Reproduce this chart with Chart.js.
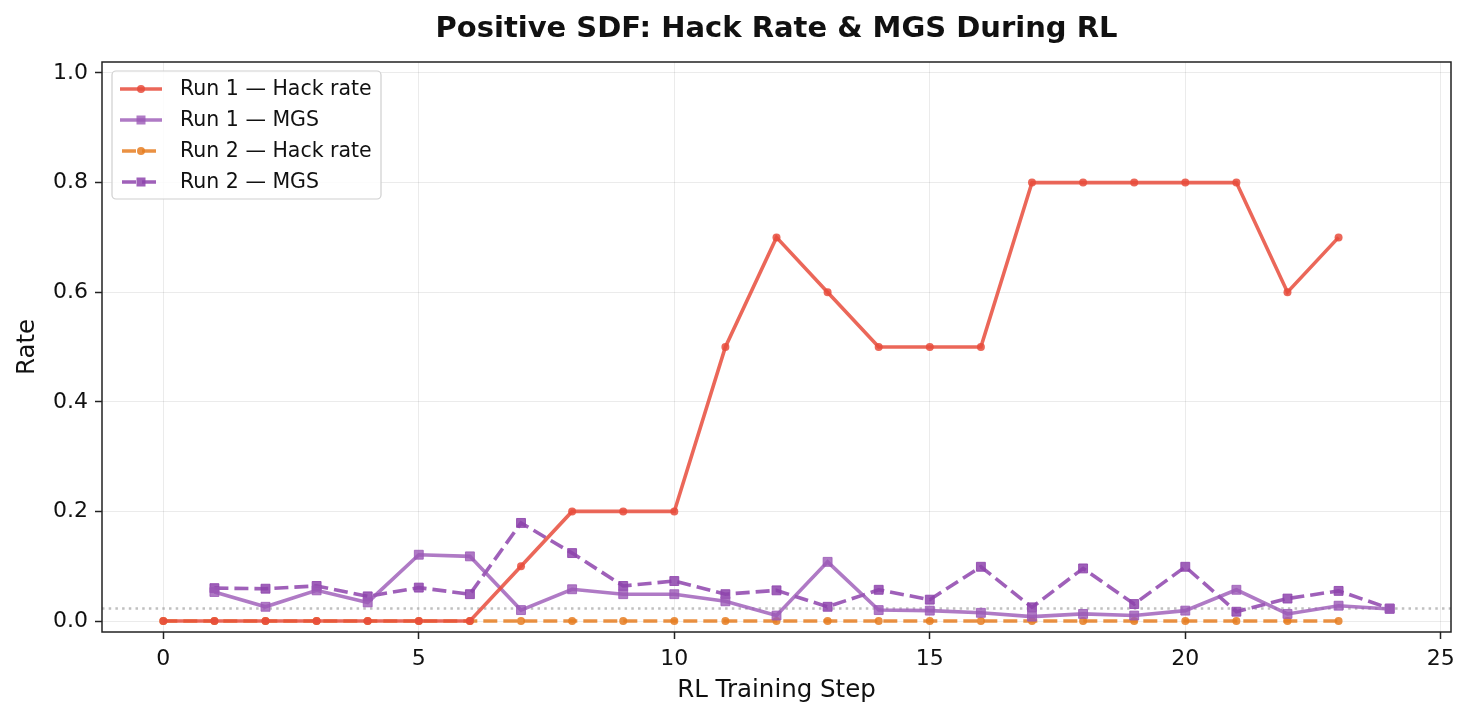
<!DOCTYPE html>
<html lang="en">
<head>
<meta charset="UTF-8">
<title>Positive SDF: Hack Rate & MGS During RL</title>
<script src="https://cdn.jsdelivr.net/npm/chart.js"></script>
<style>
  html, body { margin: 0; padding: 0; background: #fff; }
  #wrap { width: 1471px; height: 719px; position: relative; }
</style>
</head>
<body>
<div id="wrap"><canvas id="sdfChart"></canvas></div>
<script>
// data
const hackSteps = [0,1,2,3,4,5,6,7,8,9,10,11,12,13,14,15,16,17,18,19,20,21,22,23];
const mgsSteps = [1,2,3,4,5,6,7,8,9,10,11,12,13,14,15,16,17,18,19,20,21,22,23,24];
const run1Hack = [0,0,0,0,0,0,0,0.1,0.2,0.2,0.2,0.5,0.7,0.6,0.5,0.5,0.5,0.8,0.8,0.8,0.8,0.8,0.6,0.7];
const run2Hack = [0,0,0,0,0,0,0,0,0,0,0,0,0,0,0,0,0,0,0,0,0,0,0,0];
const run1Mgs = [0.053,0.026,0.056,0.034,0.121,0.118,0.020,0.058,0.049,0.049,0.036,0.010,
                 0.108,0.020,0.019,0.015,0.008,0.013,0.010,0.019,0.057,0.013,0.028,0.022];
const run2Mgs = [0.060,0.059,0.064,0.045,0.061,0.049,0.179,0.124,0.064,0.073,0.049,0.056,
                 0.026,0.057,0.039,0.099,0.025,0.096,0.031,0.099,0.017,0.041,0.055,0.023];
const baselineMgs = 0.023;
const xTicks = [0, 5, 10, 15, 20, 25];
const yTicks = [0, 0.2, 0.4, 0.6, 0.8, 1.0];
const xRange = [-1.2, 25.2];
const yRange = [-0.02, 1.02];
const chartTitle = 'Positive SDF: Hack Rate & MGS During RL';

const FONT = "'DejaVu Sans', sans-serif";

function pts(xs, ys) {
    return xs.map((x, i) => ({ x: x, y: ys[i] }));
}

// frame around the plot area + title centred over it (like matplotlib)
const framePlugin = {
    id: 'frame',
    afterDraw(chart) {
        const a = chart.chartArea, c = chart.ctx;
        c.save();
        c.strokeStyle = '#222';
        c.lineWidth = 1.5;
        c.strokeRect(a.left, a.top, a.right - a.left, a.bottom - a.top);
        c.fillStyle = '#111';
        c.font = 'bold 29px ' + FONT;
        c.textAlign = 'center';
        c.textBaseline = 'middle';
        c.fillText(chartTitle, (a.left + a.right) / 2, 29);
        c.restore();
    }
};

// legend boxed inside the upper left of the plot
const innerLegend = {
    id: 'innerLegend',
    afterDraw(chart) {
        const c = chart.ctx, a = chart.chartArea;
        const items = chart.data.datasets.filter(d => !d.hideInLegend);
        const x0 = a.left + 10, y0 = a.top + 9;
        const w = 269, h = 128, rowH = 31;
        c.save();
        c.fillStyle = 'rgba(255,255,255,0.85)';
        c.strokeStyle = '#cfcfcf';
        c.lineWidth = 1.2;
        c.beginPath();
        c.roundRect(x0, y0, w, h, 4);
        c.fill();
        c.stroke();
        c.font = '20.5px ' + FONT;
        c.textBaseline = 'middle';
        items.forEach((d, i) => {
            const cy = y0 + 18 + i * rowH;
            c.strokeStyle = d.borderColor;
            c.lineWidth = d.borderWidth;
            c.setLineDash(d.borderDash);
            c.lineDashOffset = d.borderDash.length ? -2 : 0;
            c.beginPath();
            c.moveTo(x0 + 8, cy);
            c.lineTo(x0 + 50, cy);
            c.stroke();
            c.setLineDash([]);
            c.fillStyle = d.pointBackgroundColor;
            if (d.pointStyle === 'rect') {
                c.fillRect(x0 + 29 - 4.5, cy - 4.5, 9, 9);
            } else {
                c.beginPath();
                c.arc(x0 + 29, cy, 4, 0, Math.PI * 2);
                c.fill();
            }
            c.fillStyle = '#111';
            c.fillText(d.label, x0 + 68, cy + 1);
        });
        c.restore();
    }
};

function series(label, xs, ys, color, style, dashed) {
    return {
        label: label,
        data: pts(xs, ys),
        borderColor: color,
        backgroundColor: color,
        pointBackgroundColor: color,
        pointBorderColor: color,
        pointStyle: style,
        pointRadius: style === 'rect' ? 6.3 : 4,
        pointBorderWidth: style === 'rect' ? 1 : 0,
        borderWidth: 3.6,
        borderDash: dashed ? [14, 6] : [],
        tension: 0,
        fill: false
    };
}

const ctx = document.getElementById('sdfChart').getContext('2d');
new Chart(ctx, {
    type: 'line',
    data: {
        datasets: [
            series('Run 1 \u2014 Hack rate', hackSteps, run1Hack, 'rgba(231,76,60,0.85)', 'circle', false),
            series('Run 1 \u2014 MGS', mgsSteps, run1Mgs, 'rgba(155,89,182,0.8)', 'rect', false),
            series('Run 2 \u2014 Hack rate', hackSteps, run2Hack, 'rgba(230,126,34,0.85)', 'circle', true),
            series('Run 2 \u2014 MGS', mgsSteps, run2Mgs, 'rgba(142,68,173,0.85)', 'rect', true),
            {
                label: 'baseline',
                hideInLegend: true,
                data: [{ x: xRange[0], y: baselineMgs }, { x: xRange[1], y: baselineMgs }],
                borderColor: 'rgba(150,150,150,0.6)',
                borderWidth: 2.5,
                borderDash: [2.5, 4.2],
                pointRadius: 0,
                fill: false
            }
        ]
    },
    options: {
        responsive: true,
        maintainAspectRatio: false,
        animation: false,
        layout: { padding: { top: 62, right: 20, left: 0, bottom: 0 } },
        plugins: {
            legend: { display: false },
            tooltip: { enabled: false },
            title: { display: false }
        },
        scales: {
            x: {
                type: 'linear',
                min: xRange[0],
                max: xRange[1],
                afterBuildTicks: s => { s.ticks = xTicks.map(v => ({ value: v })); },
                afterFit: s => { s.height = 87; },
                grid: { color: 'rgba(0,0,0,0.08)', tickColor: '#222', tickLength: 7, tickWidth: 1.5 },
                border: { display: false },
                ticks: { color: '#111', font: { family: FONT, size: 22 }, padding: 7 },
                title: { display: true, text: 'RL Training Step', color: '#111',
                         font: { family: FONT, size: 24.5 }, padding: { top: 0, bottom: 14 } }
            },
            y: {
                type: 'linear',
                min: yRange[0],
                max: yRange[1],
                afterBuildTicks: s => { s.ticks = yTicks.map(v => ({ value: v })); },
                afterFit: s => { s.width = 102; },
                grid: { color: 'rgba(0,0,0,0.08)', tickColor: '#222', tickLength: 7, tickWidth: 1.5 },
                border: { display: false },
                ticks: { color: '#111', font: { family: FONT, size: 22 }, padding: 7,
                         callback: v => v.toFixed(1) },
                title: { display: true, text: 'Rate', color: '#111',
                         font: { family: FONT, size: 24.5 }, padding: { top: 13, bottom: 0 } }
            }
        }
    },
    plugins: [framePlugin, innerLegend]
});
</script>
</body>
</html>
